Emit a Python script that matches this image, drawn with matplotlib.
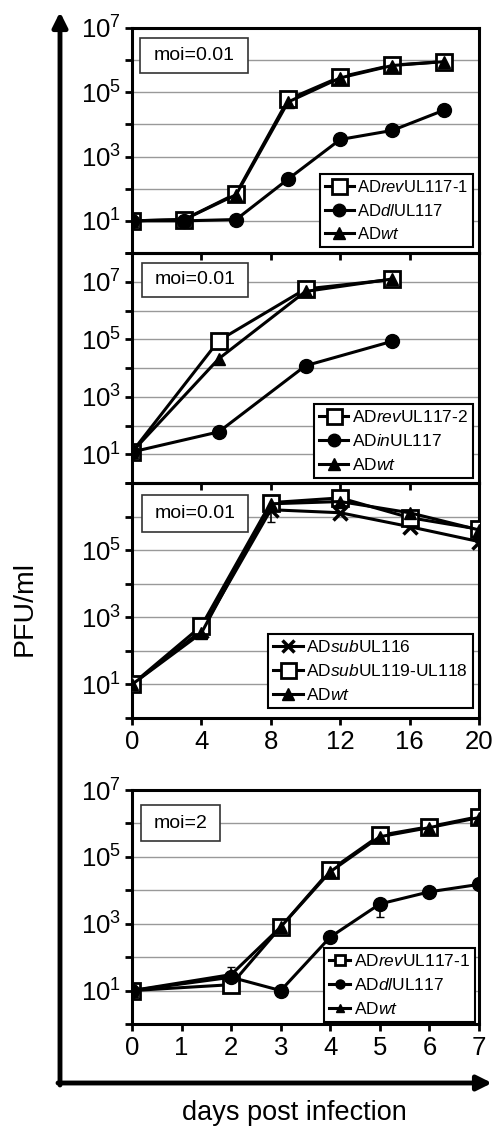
import numpy as np
import matplotlib
matplotlib.use("Agg")
import matplotlib.pyplot as plt
from matplotlib.patches import Rectangle

plt.rcParams['font.family'] = ['Liberation Sans', 'DejaVu Sans']
plt.rcParams['mathtext.fontset'] = 'custom'
plt.rcParams['mathtext.rm'] = 'Liberation Sans'
plt.rcParams['mathtext.it'] = 'Liberation Sans:italic'

# ---- data (PFU/ml) ----
# panel 1, moi=0.01
p1_days = [0, 3, 6, 9, 12, 15, 18]
p1_rev = [10, 11, 70, 6.0e4, 3.0e5, 7.0e5, 9.0e5]
p1_dl = [10, 10, 11, 200, 3.4e3, 6.5e3, 2.8e4]
p1_wt = [10, 11, 65, 5.0e4, 2.8e5, 6.8e5, 9.0e5]

# panel 2, moi=0.01
p2_days = [0, 5, 10, 15]
p2_rev = [12, 9.0e4, 5.6e6, 1.2e7]
p2_in = [12, 60, 1.2e4, 8.5e4]
p2_wt = [12, 2.1e4, 4.6e6, 1.25e7]

# panel 3, moi=0.01
p3_days = [0, 4, 8, 12, 16, 20]
p3_sub116 = [10, 400, 1.6e6, 1.3e6, 5.0e5, 1.8e5]
p3_sub119 = [10, 550, 2.6e6, 3.6e6, 9.3e5, 4.2e5]
p3_wt = [10, 340, 2.4e6, 2.8e6, 1.3e6, 4.0e5]
p3_sub116_lo = [0, 0, 7.0e5, 0, 0, 0]

# panel 4, moi=2
p4_days = [0, 2, 3, 4, 5, 6, 7]
p4_rev = [10, 15, 800, 4.0e4, 4.4e5, 8.0e5, 1.6e6]
p4_dl = [10, 25, 10, 400, 3.9e3, 9.0e3, 1.5e4]
p4_wt = [10, 30, 800, 3.6e4, 4.0e5, 7.5e5, 1.5e6]
p4_dl_lo = [0, 0, 0, 0, 1.6e3, 0, 0]
p4_wt_err = [0, 20, 0, 0, 0, 0, 0]

W, H = 495, 1129
fig = plt.figure(figsize=(W / 100, H / 100), dpi=100)


def add_panel(top, bottom):
    ax = fig.add_axes([132 / W, 1 - bottom / H, 347 / W, (bottom - top) / H])
    ax.patch.set_alpha(0)
    for s in ax.spines.values():
        s.set_linewidth(2.2)
    ax.set_yscale('log')
    ax.yaxis.grid(True, color='#999999', lw=1)
    ax.set_axisbelow(True)
    ax.tick_params(axis='both', direction='out', length=5, width=2, labelsize=18.5)
    ax.tick_params(axis='y', pad=3)
    ax.tick_params(axis='y', which='minor', left=False)
    return ax


def set_yticks(ax, lo, hi, labelled):
    ticks = [10.0 ** k for k in range(lo, hi + 1)]
    labels = ['$10^{%d}$' % k if k in labelled else '' for k in range(lo, hi + 1)]
    ax.set_yticks(ticks)
    ax.set_yticklabels(labels)
    ax.set_ylim(10.0 ** lo, 10.0 ** hi)


def moi_box(ax, x0, y0, x1, y1, text):
    bb = ax.get_position()
    fx0, fx1 = x0 / W, x1 / W
    fy0, fy1 = 1 - y1 / H, 1 - y0 / H
    ax_x = (fx0 - bb.x0) / bb.width
    ax_y = (fy0 - bb.y0) / bb.height
    w = (fx1 - fx0) / bb.width
    h = (fy1 - fy0) / bb.height
    ax.add_patch(Rectangle((ax_x, ax_y), w, h, transform=ax.transAxes,
                           facecolor='white', edgecolor='#333333', lw=1.2, zorder=5))
    ax.text(ax_x + w / 2, ax_y + h / 2, text, transform=ax.transAxes,
            ha='center', va='center', fontsize=14, zorder=6)


def line(ax, x, y, marker, ms, label, face='black', **kw):
    ax.plot(x, y, color='black', lw=2.2, marker=marker, ms=ms, mfc=face,
            mec='black', mew=2 if face == 'white' else 1, label=label, zorder=3, **kw)


def legend(ax, right, bottom, fs=12, scale=0.9, hl=1.7):
    leg = ax.legend(loc='lower right', bbox_to_anchor=(right / W, 1 - bottom / H),
                    bbox_transform=fig.transFigure, fontsize=fs, frameon=True,
                    fancybox=False, edgecolor='black', framealpha=1,
                    handlelength=hl, handletextpad=0.2, labelspacing=0.45,
                    borderpad=0.3, borderaxespad=0, markerscale=scale)
    leg.get_frame().set_linewidth(1.5)
    leg.set_zorder(7)


# panel 1
ax1 = add_panel(28, 253)
line(ax1, p1_days, p1_rev, 's', 12, 'AD$\\it{rev}$UL117-1', face='white')
line(ax1, p1_days, p1_dl, 'o', 10, 'AD$\\it{dl}$UL117')
line(ax1, p1_days, p1_wt, '^', 9, 'AD$\\it{wt}$')
set_yticks(ax1, 0, 7, [1, 3, 5, 7])
ax1.set_xlim(0, 20)
ax1.set_xticks([0, 4, 8, 12, 16, 20])
ax1.tick_params(axis='x', labelbottom=False)
moi_box(ax1, 140, 38, 248, 73, 'moi=0.01')
legend(ax1, 473, 247)

# panel 2
ax2 = add_panel(253, 483)
line(ax2, p2_days, p2_rev, 's', 12, 'AD$\\it{rev}$UL117-2', face='white')
line(ax2, p2_days, p2_in, 'o', 10, 'AD$\\it{in}$UL117')
line(ax2, p2_days, p2_wt, '^', 9, 'AD$\\it{wt}$')
set_yticks(ax2, 0, 8, [1, 3, 5, 7])
ax2.set_xlim(0, 20)
ax2.set_xticks([0, 4, 8, 12, 16, 20])
ax2.tick_params(axis='x', labelbottom=False)
moi_box(ax2, 142, 263, 248, 297, 'moi=0.01')
legend(ax2, 473, 478, fs=12.5)

# panel 3
ax3 = add_panel(483, 718)
y116 = np.array(p3_sub116)
lo116 = np.array(p3_sub116_lo)
err = [np.where(lo116 > 0, y116 - lo116, 0), np.zeros_like(y116)]
ax3.errorbar(p3_days, p3_sub116, yerr=err, fmt='none', ecolor='black', elinewidth=1.2,
             capsize=3, zorder=2)
line(ax3, p3_days, p3_sub116, 'x', 10, 'AD$\\it{sub}$UL116')
ax3.lines[-1].set_markeredgewidth(2.5)
line(ax3, p3_days, p3_sub119, 's', 12, 'AD$\\it{sub}$UL119-UL118', face='white')
line(ax3, p3_days, p3_wt, '^', 9, 'AD$\\it{wt}$')
set_yticks(ax3, 0, 7, [1, 3, 5])
ax3.set_xlim(0, 20)
ax3.set_xticks([0, 4, 8, 12, 16, 20])
moi_box(ax3, 142, 495, 248, 532, 'moi=0.01')
legend(ax3, 473, 708, fs=12.5)

# panel 4
ax4 = add_panel(790, 1024)
ydl = np.array(p4_dl)
lodl = np.array(p4_dl_lo)
ax4.errorbar(p4_days, p4_dl, yerr=[np.where(lodl > 0, ydl - lodl, 0), np.zeros_like(ydl)],
             fmt='none', ecolor='black', elinewidth=1.2, capsize=3, zorder=2)
ywt = np.array(p4_wt)
ewt = np.array(p4_wt_err)
ax4.errorbar(p4_days, p4_wt, yerr=[ewt * 0.6, ewt], fmt='none', ecolor='black',
             elinewidth=1.2, capsize=3, zorder=2)
line(ax4, p4_days, p4_rev, 's', 12, 'AD$\\it{rev}$UL117-1', face='white')
line(ax4, p4_days, p4_dl, 'o', 10, 'AD$\\it{dl}$UL117')
line(ax4, p4_days, p4_wt, '^', 9, 'AD$\\it{wt}$')
set_yticks(ax4, 0, 7, [1, 3, 5, 7])
ax4.set_xlim(0, 7)
ax4.set_xticks(range(8))
moi_box(ax4, 141, 805, 220, 841, 'moi=2')
legend(ax4, 475, 1022, fs=12.5, scale=0.65, hl=1.2)

# big axis arrows and labels
ov = fig.add_axes([0, 0, 1, 1], zorder=-1)
ov.set_xlim(0, W)
ov.set_ylim(H, 0)
ov.axis('off')
ov.annotate('', xy=(60, 12), xytext=(60, 1085),
            arrowprops=dict(arrowstyle='-|>', lw=3.5, color='black', mutation_scale=22,
                            shrinkA=0, shrinkB=0))
ov.annotate('', xy=(492, 1083), xytext=(58, 1083),
            arrowprops=dict(arrowstyle='-|>', lw=3.5, color='black', mutation_scale=22,
                            shrinkA=0, shrinkB=0))
ov.text(25, 608, 'PFU/ml', rotation=90, ha='center', va='center', fontsize=20.5)
ov.text(294, 1113, 'days post infection', ha='center', va='center', fontsize=19.5)

fig.savefig('out.png', dpi=100)
